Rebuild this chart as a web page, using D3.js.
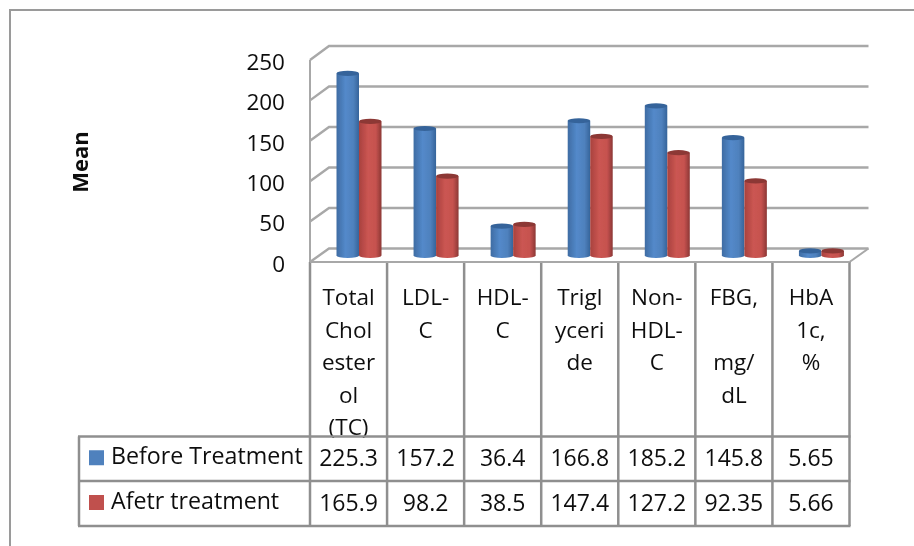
<!DOCTYPE html>
<html>
<head>
<meta charset="utf-8">
<script src="https://cdn.jsdelivr.net/npm/d3@7"></script>
<style>
body { margin: 0; background: #fff; }
svg { display: block; }
text { font-family: "Open Sans", sans-serif; fill: #111; }
</style>
</head>
<body>
<div id="chart"></div>
<script>
// values
const categories = ["Total Cholesterol (TC)", "LDL-C", "HDL-C", "Triglyceride", "Non-HDL-C", "FBG, mg/dL", "HbA1c, %"];
const categoryLines = [
    ["Total", "Chol", "ester", "ol", "(TC)"],
    ["LDL-", "C"],
    ["HDL-", "C"],
    ["Trigl", "yceri", "de"],
    ["Non-", "HDL-", "C"],
    ["FBG,", "", "mg/", "dL"],
    ["HbA", "1c,", "%"]
];
const seriesNames = ["Before Treatment", "Afetr treatment"];
const beforeValues = [225.3, 157.2, 36.4, 166.8, 185.2, 145.8, 5.65];
const afterValues = [165.9, 98.2, 38.5, 147.4, 127.2, 92.35, 5.66];
const yTicks = [0, 50, 100, 150, 200, 250];

const width = 914, height = 546;
const colors = ["#4f81bd", "#c0504d"];
const seriesValues = [beforeValues, afterValues];

const svg = d3.select("#chart").append("svg")
    .attr("width", width)
    .attr("height", height);

const defs = svg.append("defs");
defs.append("filter").attr("id", "soft")
    .append("feGaussianBlur").attr("stdDeviation", 0.6);
defs.append("filter").attr("id", "softText")
    .append("feGaussianBlur").attr("stdDeviation", 0.3);

// cylinder shading
const shades = [["#3f6ca3", "#5389ca", "#4f81bd", "#36649a"], ["#a8413e", "#cb5652", "#c6524f", "#8c3835"]];
shades.forEach((s, i) => {
    const g = defs.append("linearGradient").attr("id", "cyl" + i);
    [0, 0.4, 0.75, 1].forEach((o, j) => {
        g.append("stop").attr("offset", o).attr("stop-color", s[j]);
    });
});

const x = d3.scaleBand().domain(categories).range([310, 849.5]);
const inner = d3.scaleBand().domain(seriesNames).range([26.5, 71.5]);
const yFront = d3.scaleLinear().domain([0, 250]).range([262, 60]);
const yBack = d3.scaleLinear().domain([0, 250]).range([248.5, 46]);
const yBar = d3.scaleLinear().domain([0, 250]).range([255.5, 53.5]);

const depth = 19;
const gridColor = "#a8a8a8";
const lineColor = "#8f8f8f";

// outer frame, cropped on the right and at the bottom
svg.append("path")
    .attr("d", `M${width},10H10V${height}`)
    .attr("fill", "none")
    .attr("stroke", "#9a9a9a")
    .attr("stroke-width", 2);

const walls = svg.append("g").attr("filter", "url(#soft)");

walls.selectAll(".grid")
    .data(yTicks)
    .join("path")
    .attr("class", "grid")
    .attr("d", d => `M${x.range()[0]},${yFront(d)}L${x.range()[0] + depth},${yBack(d)}H${x.range()[1] + depth}`)
    .attr("fill", "none")
    .attr("stroke", gridColor)
    .attr("stroke-width", 2.4);

// floor edge on the right
walls.append("line")
    .attr("x1", x.range()[1]).attr("y1", yFront(0))
    .attr("x2", x.range()[1] + depth).attr("y2", yBack(0))
    .attr("stroke", gridColor)
    .attr("stroke-width", 2);

walls.append("line")
    .attr("x1", x.range()[0]).attr("y1", yFront(250))
    .attr("x2", x.range()[0]).attr("y2", yFront(0))
    .attr("stroke", gridColor)
    .attr("stroke-width", 2);

const texts = svg.append("g").attr("filter", "url(#softText)");

// y axis
const yAxis = texts.append("g")
    .attr("transform", "translate(290,2)")
    .call(d3.axisLeft(yFront).tickValues(yTicks).tickSize(0).tickPadding(5));
yAxis.select(".domain").remove();
yAxis.selectAll("text")
    .attr("font-size", 22.5)
    .style("font-family", "\"Open Sans\", sans-serif")
    .attr("fill", "#111");

texts.append("text")
    .attr("transform", "translate(88,162) rotate(-90)")
    .attr("text-anchor", "middle")
    .attr("font-size", 22)
    .attr("font-weight", 700)
    .text("Mean");

// bars as cylinders
const ry = 2.6;
const bars = svg.append("g").attr("filter", "url(#soft)");
seriesNames.forEach((name, s) => {
    const rx = inner.bandwidth() / 2;
    const g = bars.append("g");
    const cx = (d, i) => x(categories[i]) + inner(name) + rx;
    g.selectAll(".body")
        .data(seriesValues[s])
        .join("path")
        .attr("class", "body")
        .attr("fill", `url(#cyl${s})`)
        .attr("d", (d, i) => {
            const c = cx(d, i);
            return `M${c - rx},${yBar(d)}V${yBar(0)}A${rx},${ry} 0 0 0 ${c + rx},${yBar(0)}V${yBar(d)}Z`;
        });
    g.selectAll(".cap")
        .data(seriesValues[s])
        .join("ellipse")
        .attr("class", "cap")
        .attr("cx", cx)
        .attr("cy", d => yBar(d))
        .attr("rx", rx)
        .attr("ry", ry)
        .attr("fill", shades[s][3]);
});

// category labels under the axis
const rowTops = [436.5, 481, 526];
const labelGroup = texts.append("g").attr("text-anchor", "middle");
labelGroup.selectAll("g")
    .data(categories)
    .join("g")
    .attr("transform", d => `translate(${x(d) + x.bandwidth() / 2},0)`)
    .selectAll("text")
    .data((d, i) => categoryLines[i])
    .join("text")
    .attr("y", (d, i) => 305 + i * 32.5)
    .attr("font-size", 22.5)
    .text(d => d);

// table rows
const table = svg.append("g");
seriesNames.forEach((name, s) => {
    const mid = (rowTops[s] + rowTops[s + 1]) / 2;
    table.append("rect")
        .attr("x", 89).attr("y", mid - 8.5)
        .attr("width", 15).attr("height", 15)
        .attr("fill", colors[s]);
    texts.append("text")
        .attr("x", 111).attr("y", mid + 5.5)
        .attr("font-size", 23.2)
        .text(name);
    texts.selectAll(".v" + s)
        .data(seriesValues[s])
        .join("text")
        .attr("class", "v" + s)
        .attr("text-anchor", "middle")
        .attr("x", (d, i) => x(categories[i]) + x.bandwidth() / 2)
        .attr("y", mid + 7.5)
        .attr("font-size", 23)
        .text(d => d);
});

// table grid
const edges = [x.range()[0]].concat(categories.map(d => x(d) + x.bandwidth()));
table.selectAll(".col")
    .data(edges)
    .join("line")
    .attr("class", "col")
    .attr("x1", d => d).attr("x2", d => d)
    .attr("y1", yFront(0)).attr("y2", rowTops[2])
    .attr("stroke", lineColor)
    .attr("stroke-width", 2.5);
table.append("line")
    .attr("x1", x.range()[0]).attr("x2", x.range()[1])
    .attr("y1", yFront(0)).attr("y2", yFront(0))
    .attr("stroke", gridColor)
    .attr("stroke-width", 2);
table.selectAll(".row")
    .data(rowTops)
    .join("line")
    .attr("class", "row")
    .attr("x1", 78).attr("x2", x.range()[1] + 1)
    .attr("y1", d => d).attr("y2", d => d)
    .attr("stroke", lineColor)
    .attr("stroke-width", 2.5);
table.append("line")
    .attr("x1", 79).attr("x2", 79)
    .attr("y1", rowTops[0]).attr("y2", rowTops[2])
    .attr("stroke", lineColor)
    .attr("stroke-width", 2.5);
</script>
</body>
</html>
